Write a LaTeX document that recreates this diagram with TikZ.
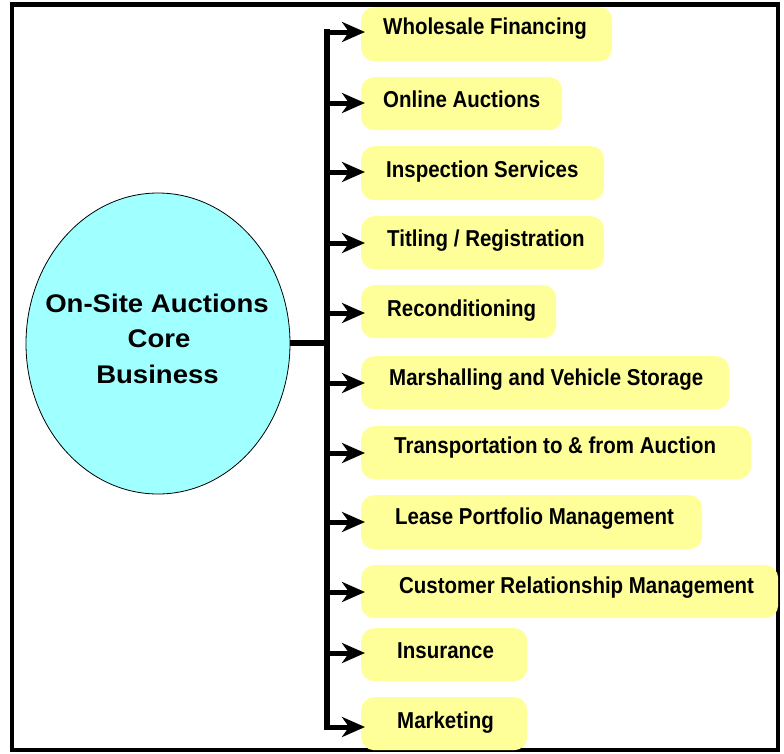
\documentclass[tikz,border=0pt]{standalone}
\usepackage{fontspec}
\usepackage{graphicx}
\setmainfont{Liberation Sans}
\usetikzlibrary{shapes.geometric,arrows.meta}
\definecolor{cyanfill}{HTML}{A0FFFF}
\definecolor{yelfill}{HTML}{FFFF99}
\tikzset{
  ybox/.style={fill=yelfill, rounded corners=13pt, inner sep=0pt, anchor=north west},
  ylbl/.style={anchor=base west, inner sep=0pt, font=\fontsize{23}{27}\selectfont\bfseries},
  clbl/.style={anchor=base, inner sep=0pt, font=\fontsize{25.5}{30}\selectfont\bfseries},
  thick line/.style={line width=5.5pt},
  arr/.style={line width=5pt, -{Stealth[length=23pt 0 0, width=20pt 0 0, inset=7pt]}},
}
\newcommand{\bx}[1]{\scalebox{0.89}[1]{#1}}
\newcommand{\cx}[1]{\scalebox{1.08}[1]{#1}}
\begin{document}
\begin{tikzpicture}[x=1pt,y=-1pt]
\useasboundingbox (0,0) rectangle (784,753);
% frame
\draw[line width=4.5pt] (12,4.5) rectangle (778,750);
% core ellipse
\node[ellipse, draw=black, line width=0.8pt, fill=cyanfill, minimum width=264pt, minimum height=301pt, inner sep=0pt] (core) at (158,343.5) {};
\node[clbl] (c1) at (157,312) {\cx{On-Site Auctions}};
\node[clbl] (c2) at (159,347) {\cx{Core}};
\node[clbl] (c3) at (157.5,383) {\cx{Business}};
% boxes
\node[ybox, minimum width=251pt, minimum height=54pt] (b1) at (361,7) {};
\node[ybox, minimum width=201pt, minimum height=53pt] (b2) at (361,77) {};
\node[ybox, minimum width=243pt, minimum height=54pt] (b3) at (361,146) {};
\node[ybox, minimum width=243pt, minimum height=53pt] (b4) at (361,216) {};
\node[ybox, minimum width=195pt, minimum height=53pt] (b5) at (361,285) {};
\node[ybox, minimum width=368pt, minimum height=53pt] (b6) at (361,356) {};
\node[ybox, minimum width=390pt, minimum height=53pt] (b7) at (361,426) {};
\node[ybox, minimum width=341pt, minimum height=54pt] (b8) at (361,495) {};
\node[ybox, minimum width=417pt, minimum height=53pt] (b9) at (361,565) {};
\node[ybox, minimum width=166pt, minimum height=53pt] (b10) at (361,628) {};
\node[ybox, minimum width=166pt, minimum height=53pt] (b11) at (361,697) {};
% labels
\node[ylbl] (t1) at (383,34) {\bx{Wholesale Financing}};
\node[ylbl] (t2) at (383,107) {\bx{Online Auctions}};
\node[ylbl] (t3) at (386,177) {\bx{Inspection Services}};
\node[ylbl] (t4) at (387,246) {\bx{Titling / Registration}};
\node[ylbl] (t5) at (387,316) {\bx{Reconditioning}};
\node[ylbl] (t6) at (389,385) {\bx{Marshalling and Vehicle Storage}};
\node[ylbl] (t7) at (394,453) {\bx{Transportation to \& from Auction}};
\node[ylbl] (t8) at (395,524) {\bx{Lease Portfolio Management}};
\node[ylbl] (t9) at (399,593) {\bx{Customer Relationship Management}};
\node[ylbl] (t10) at (397,658) {\bx{Insurance}};
\node[ylbl] (t11) at (397,728) {\bx{Marketing}};
% junction coordinates on the trunk
\coordinate (j1) at (327,32);
\coordinate (j2) at (327,103);
\coordinate (j3) at (327,172);
\coordinate (j4) at (327,243);
\coordinate (j5) at (327,313);
\coordinate (j6) at (327,383);
\coordinate (j7) at (327,453);
\coordinate (j8) at (327,522);
\coordinate (j9) at (327,592);
\coordinate (j10) at (327,653);
\coordinate (j11) at (327,727);
\coordinate (jc) at (327,343);
% trunk and core link
\draw[thick line, line cap=rect] (j1) -- (j11);
\draw[thick line] (core.east |- jc) -- (jc);
% arrows
\foreach \i in {1,...,11}{
  \draw[arr] (j\i) -- ([xshift=4pt]b\i.west |- j\i);
}
\end{tikzpicture}
\end{document}
